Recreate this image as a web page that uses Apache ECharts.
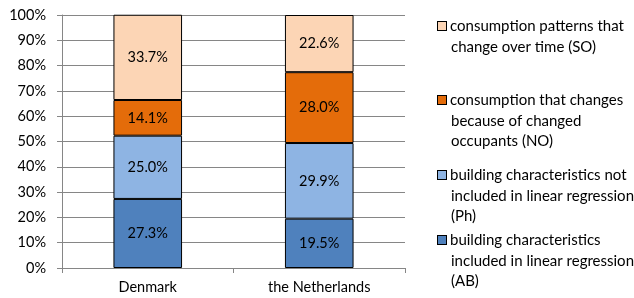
<!DOCTYPE html>
<html><head><meta charset="utf-8">
<script src="https://cdn.jsdelivr.net/npm/echarts@6/dist/echarts.min.js"></script>
<style>html,body{margin:0;padding:0;background:#fff}#c{width:634px;height:298px}</style>
</head><body><div id="c"></div>
<script>
const categories = ['Denmark', 'the Netherlands'];
const seriesNames = [
  'building characteristics included in linear regression (AB)',
  'building characteristics not included in linear regression (Ph)',
  'consumption that changes because of changed occupants (NO)',
  'consumption patterns that change over time (SO)'
];
const legendLines = [
  ['building characteristics', 'included in linear regression', '(AB)'],
  ['building characteristics not', 'included in linear regression', '(Ph)'],
  ['consumption that changes', 'because of changed', 'occupants (NO)'],
  ['consumption patterns that', 'change over time (SO)']
];
const valuesAB = [27.3, 19.5];
const valuesPh = [25.0, 29.9];
const valuesNO = [14.1, 28.0];
const valuesSO = [33.7, 22.6];
const yTicks = [0, 10, 20, 30, 40, 50, 60, 70, 80, 90, 100];

const colors = ['#4F81BD', '#8EB4E3', '#E46C0A', '#FCD5B5'];
const allValues = [valuesAB, valuesPh, valuesNO, valuesSO];
const FONT = 'Lato';
const LH = 20.7;
const firstLineY = [240, 175, 100, 26];

const series = seriesNames.map((n, i) => ({
  name: n, type: 'bar', stack: 'total', barWidth: '40%',
  data: allValues[i],
  itemStyle: { color: colors[i], borderColor: '#000', borderWidth: 1 },
  label: { show: true, position: 'inside', color: '#000', fontFamily: FONT, fontSize: 14.5,
           formatter: p => p.value.toFixed(1) + '%' }
}));

const legends = seriesNames.map((n, i) => {
  const lines = legendLines[i];
  const txt = lines.map((l, k) => (k === 0 ? '{b|}{g|}' : '{s|}') + '{t|' + l + '}').join('\n');
  return {
    data: [n], left: 432, top: firstLineY[i] - LH / 2,
    orient: 'vertical', padding: 0, itemWidth: 0, itemHeight: 0, itemGap: 0,
    icon: 'rect', selectedMode: false,
    itemStyle: { opacity: 0 },
    formatter: () => txt,
    textStyle: {
      fontFamily: FONT, fontSize: 15, color: '#000', lineHeight: LH,
      rich: {
        b: { width: 8, height: 8, backgroundColor: colors[i], borderColor: '#000', borderWidth: 1, lineHeight: LH },
        g: { width: 4, lineHeight: LH },
        s: { width: 13, lineHeight: LH },
        t: { fontFamily: FONT, fontSize: 15, color: '#000', lineHeight: LH }
      }
    }
  };
});

const chart = echarts.init(document.getElementById('c'), null, { renderer: 'canvas' });
chart.setOption({
  animation: false,
  legend: legends,
  grid: { left: 62, right: 229, top: 15, bottom: 30, containLabel: false },
  xAxis: {
    type: 'category', data: categories,
    axisLine: { lineStyle: { color: '#868686', width: 1 } },
    axisTick: { show: true, length: 5, lineStyle: { color: '#868686' } },
    axisLabel: { color: '#000', fontFamily: FONT, fontSize: 14.5, margin: 12 }
  },
  yAxis: {
    type: 'value', min: 0, max: 100, interval: 10,
    axisLine: { show: true, lineStyle: { color: '#868686', width: 1 } },
    axisTick: { show: true, length: 5, lineStyle: { color: '#868686' } },
    axisLabel: { color: '#000', fontFamily: FONT, fontSize: 14.5, margin: 16,
                 formatter: v => yTicks.includes(v) ? v + '%' : '' },
    splitLine: { lineStyle: { color: '#868686', width: 1 } }
  },
  series: series
});
</script></body></html>
